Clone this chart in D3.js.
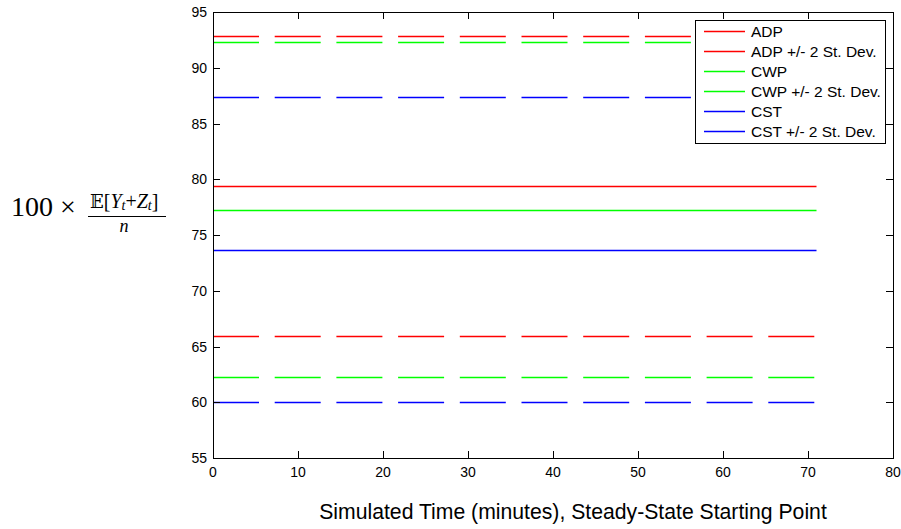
<!DOCTYPE html>
<html>
<head>
<meta charset="utf-8">
<script src="https://cdn.jsdelivr.net/npm/d3@7"></script>
<style>
	body { margin: 0; background: #fff; }
	svg { display: block; }
	text { font-family: "Liberation Sans", Arial, sans-serif; }
</style>
</head>
<body>
<svg></svg>
<script>
// series and values
const seriesNames = ["ADP", "CWP", "CST"];
const seriesColors = ["#ff0000", "#00ff00", "#0000ff"];
const meanValues = [79.37, 77.22, 73.63];
const upperValues = [92.82, 92.28, 87.35];
const lowerValues = [65.95, 62.28, 60.0];
const timeRange = [0, 71];
const xTicks = [0, 10, 20, 30, 40, 50, 60, 70, 80];
const yTicks = [55, 60, 65, 70, 75, 80, 85, 90, 95];
const legendLabels = ["ADP", "ADP +/- 2 St. Dev.", "CWP", "CWP +/- 2 St. Dev.", "CST", "CST +/- 2 St. Dev."];

const width = 901;
const height = 529;
const svg = d3.select("svg").attr("width", width).attr("height", height);

const plotLeft = 213, plotRight = 893, plotTop = 12, plotBottom = 458;

const x = d3.scaleLinear().domain([0, 80]).range([plotLeft, plotRight]);
const y = d3.scaleLinear().domain([55, 95]).range([plotBottom, plotTop]);

const line = d3.line()
	.x(d => x(d[0]))
	.y(d => Math.round(y(d[1])) + 0.5);

function flat(v) {
	return [[timeRange[0], v], [timeRange[1], v]];
}

// data lines
let lines = svg.append("g")
.attr("fill", "none")
.attr("stroke-width", 1.3);

seriesNames.forEach((name, i) => {
	lines.append("path")
	.attr("d", line(flat(meanValues[i])))
	.attr("stroke", seriesColors[i]);

	[upperValues[i], lowerValues[i]].forEach(v => {
		lines.append("path")
		.attr("d", line(flat(v)))
		.attr("stroke", seriesColors[i])
		.attr("stroke-dasharray", "46,15.7");
	});
});

// axes box with inward ticks on all four sides
const tickLen = 7;
let axes = svg.append("g").style("shape-rendering", "crispEdges");

axes.append("g")
.attr("transform", `translate(0,${plotBottom})`)
.call(d3.axisTop(x).tickValues(xTicks).tickSize(tickLen).tickFormat(""))
.call(g => g.select(".domain").remove());

axes.append("g")
.attr("transform", `translate(0,${plotTop})`)
.call(d3.axisBottom(x).tickValues(xTicks).tickSize(tickLen).tickFormat(""))
.call(g => g.select(".domain").remove());

axes.append("g")
.attr("transform", `translate(${plotLeft},0)`)
.call(d3.axisRight(y).tickValues(yTicks).tickSize(tickLen).tickFormat(""))
.call(g => g.select(".domain").remove());

axes.append("g")
.attr("transform", `translate(${plotRight},0)`)
.call(d3.axisLeft(y).tickValues(yTicks).tickSize(tickLen).tickFormat(""))
.call(g => g.select(".domain").remove());

axes.selectAll(".tick line").attr("stroke", "#000");

axes.append("rect")
.attr("x", plotLeft + 0.5)
.attr("y", plotTop + 0.5)
.attr("width", plotRight - plotLeft)
.attr("height", plotBottom - plotTop)
.attr("fill", "none")
.attr("stroke", "#000")
.attr("stroke-width", 1);

// tick labels
svg.append("g")
.selectAll("text")
.data(xTicks)
.join("text")
.attr("x", d => x(d))
.attr("y", plotBottom + 19)
.attr("text-anchor", "middle")
.attr("font-size", 14)
.text(d => d);

svg.append("g")
.selectAll("text")
.data(yTicks)
.join("text")
.attr("x", plotLeft - 6)
.attr("y", d => y(d) + 5)
.attr("text-anchor", "end")
.attr("font-size", 14)
.text(d => d);

// x label
svg.append("text")
.attr("x", 573)
.attr("y", 519)
.attr("text-anchor", "middle")
.attr("font-size", 21.2)
.text("Simulated Time (minutes), Steady-State Starting Point");

// y label, drawn as a small formula
const serif = "'Liberation Serif', 'DejaVu Serif', serif";
let ylab = svg.append("g");

ylab.append("text")
.attr("x", 11)
.attr("y", 216)
.attr("font-size", 28)
.style("font-family", serif)
.text("100 \u00d7");

let num = ylab.append("text")
.attr("x", 90)
.attr("y", 208)
.attr("font-size", 20)
.style("font-family", serif);
num.append("tspan").style("font-family", "'DejaVu Serif', 'DejaVu Sans', serif").attr("font-size", 18).text("\ud835\udd3c");
num.append("tspan").text("[");
num.append("tspan").attr("font-style", "italic").text("Y");
num.append("tspan").attr("font-style", "italic").attr("font-size", 14).attr("dy", 2).text("t");
num.append("tspan").attr("dy", -2).text("+");
num.append("tspan").attr("font-style", "italic").text("Z");
num.append("tspan").attr("font-style", "italic").attr("font-size", 14).attr("dy", 2).text("t");
num.append("tspan").attr("dy", -2).text("]");

ylab.append("line")
.attr("x1", 88)
.attr("x2", 166)
.attr("y1", 216.5)
.attr("y2", 216.5)
.attr("stroke", "#000")
.attr("stroke-width", 1);

ylab.append("text")
.attr("x", 124)
.attr("y", 232)
.attr("text-anchor", "middle")
.attr("font-size", 18)
.attr("font-style", "italic")
.style("font-family", serif)
.text("n");

// legend, inset in the upper right corner
const legW = 190, legH = 123;
let legend = svg.append("g")
.attr("transform", `translate(${plotRight - legW - 8},${plotTop + 8})`);

legend.append("rect")
.attr("x", 0.5)
.attr("y", 0.5)
.attr("width", legW)
.attr("height", legH)
.attr("fill", "#fff")
.attr("stroke", "#000")
.style("shape-rendering", "crispEdges");

let items = legend.selectAll("g")
.data(legendLabels)
.join("g")
.attr("transform", (d, i) => `translate(0,${11 + Math.round(i * 19.9)})`);

items.append("line")
.attr("x1", 9)
.attr("x2", 50)
.attr("y1", 0.5)
.attr("y2", 0.5)
.attr("stroke-width", 1.3)
.attr("stroke", (d, i) => seriesColors[Math.floor(i / 2)]);

items.append("text")
.attr("x", 56)
.attr("y", 6)
.attr("font-size", 15.5)
.text(d => d);
</script>
</body>
</html>
